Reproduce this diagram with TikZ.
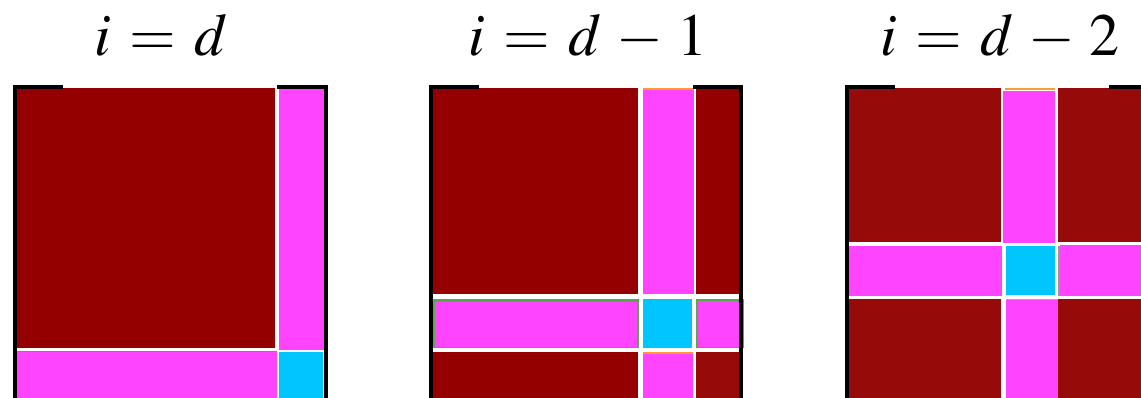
\documentclass[tikz,border=0pt]{standalone}
\usepackage{mathptmx}
\usepackage{xcolor}
\usetikzlibrary{positioning}

\definecolor{blockred}{HTML}{940000}
\definecolor{blockredb}{HTML}{960A0A}
\definecolor{panelmag}{HTML}{FF44FF}
\definecolor{pivotcyan}{HTML}{00C5FF}
\definecolor{edgegreen}{HTML}{5AA64F}
\definecolor{edgeorange}{HTML}{FF9933}

\thickmuskip=5.5mu
\medmuskip=4.5mu

\tikzset{
  steptitle/.style={anchor=base, inner sep=0pt, font=\fontsize{60}{72}\selectfont},
  bracketline/.style={line width=4pt, draw=black},
  greenedge/.style={draw=edgegreen, line width=1.5pt},
  orangetop/.style={draw=edgeorange, line width=2pt}
}

\begin{document}
\begin{tikzpicture}[x=1pt, y=-1pt]
  \useasboundingbox (0,0) rectangle (1141,398);
  \clip (0,0) rectangle (1141,398);

  % titles
  \node[steptitle] (title1) at (161,56) {$i=d$};
  \node[steptitle] (title2) at (588,56) {$i=d-1$};
  \node[steptitle] (title3) at (1000,56) {$i=d-2$};

  % Panel i = d: last block row and column
  \fill[blockred] (17,88) rectangle (275,348);
  \fill[panelmag] (279,89) rectangle (325,350);
  \fill[panelmag] (17,352) rectangle (277,400);
  \draw[edgegreen, line width=0.8pt] (17,351.5) -- (277,351.5);
  \fill[pivotcyan] (279,352) rectangle (323,400);
  \draw[bracketline] (63,87.5) -- (15,87.5) -- (15,400);
  \draw[bracketline] (277,87.5) -- (326,87.5) -- (326,400);

  % Panel i = d-1: fifth block row and column
  \fill[blockred] (433,88) rectangle (638,294);
  \fill[panelmag] (643,90) rectangle (694,294);
  \draw[orangetop] (643,89) -- (694,89);
  \fill[blockred] (696,88) rectangle (739,294);
  \filldraw[panelmag, greenedge] (434,300) rectangle (638,347.5);
  \draw[edgegreen, line width=3pt] (434,300) -- (638,300);
  \fill[pivotcyan] (643,299) rectangle (692,348);
  \filldraw[panelmag, greenedge] (697,300) rectangle (743,347.5);
  \fill[blockred] (433,352) rectangle (638,400);
  \fill[panelmag] (643,353) rectangle (693,400);
  \draw[orangetop] (643,352.5) -- (693,352.5);
  \fill[blockredb] (696,352) rectangle (740,400);
  \draw[bracketline] (479,87.5) -- (430.5,87.5) -- (430.5,400);
  \draw[bracketline] (693,87.5) -- (741,87.5) -- (741,400);

  % Panel i = d-2: fourth block row and column
  \fill[blockredb] (849,88) rectangle (1001,242);
  \fill[panelmag] (1003,91) rectangle (1055,243);
  \draw[orangetop] (1005,89) -- (1055,89);
  \fill[blockredb] (1058,88) rectangle (1150,242);
  \fill[panelmag] (848,246) rectangle (1002,296);
  \fill[pivotcyan] (1006,246) rectangle (1055,295);
  \fill[gray!80] (1058,246) rectangle (1060,296);
  \fill[panelmag] (1060,245) rectangle (1150,296);
  \fill[blockredb] (849,299) rectangle (1001,400);
  \fill[panelmag] (1006,300) rectangle (1058,400);
  \draw[edgeorange, line width=1pt] (1006,299.5) -- (1058,299.5);
  \fill[blockredb] (1058,299) rectangle (1150,400);
  \draw[bracketline] (895,87.5) -- (846.5,87.5) -- (846.5,400);
  \draw[bracketline] (1109,87.5) -- (1160,87.5) -- (1160,400);
\end{tikzpicture}
\end{document}
